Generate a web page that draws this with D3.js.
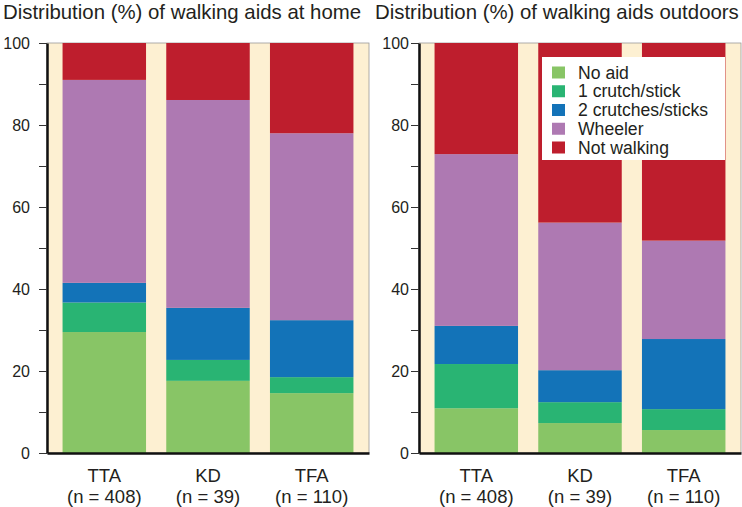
<!DOCTYPE html>
<html>
<head>
<meta charset="utf-8">
<script src="https://cdn.jsdelivr.net/npm/d3@7"></script>
<style>
  body { margin: 0; background: #fff; }
  text { font-family: "Liberation Sans", Arial, Helvetica, sans-serif; fill: #231f20; }
</style>
</head>
<body>
<div id="chart"></div>
<script>
var width = 742,
    height = 507;

// groups on the x axis
var categories = ["TTA", "KD", "TFA"];
var sampleSizes = ["(n = 408)", "(n = 39)", "(n = 110)"];

// stacked series, bottom to top
var aids = ["No aid", "1 crutch/stick", "2 crutches/sticks", "Wheeler", "Not walking"];
var aidColors = ["#88c566", "#29b473", "#1373b8", "#ae79b2", "#be1e2d"];

// walking aids at home (%)
var homeNoAid      = [29.5, 17.6, 14.6];
var homeOneCrutch  = [7.2, 5.1, 3.9];
var homeTwoCrutch  = [4.8, 12.7, 13.9];
var homeWheeler    = [49.5, 50.7, 45.6];
var homeNotWalking = [9.0, 13.9, 22.0];

// walking aids outdoors (%)
var outNoAid      = [10.9, 7.3, 5.6];
var outOneCrutch  = [10.8, 5.1, 5.1];
var outTwoCrutch  = [9.3, 7.8, 17.1];
var outWheeler    = [41.9, 36.0, 24.0];
var outNotWalking = [27.1, 43.8, 48.2];

var yTicks = [0, 10, 20, 30, 40, 50, 60, 70, 80, 90, 100];

function buildRows(series) {
	var rows = [];
	for (var i = 0; i < categories.length; i++) {
		var row = { group: categories[i] };
		for (var s = 0; s < aids.length; s++) {
			row[aids[s]] = series[s][i];
		}
		rows.push(row);
	}
	return rows;
}

var svg = d3.select("#chart").append("svg")
	.attr("width", width)
	.attr("height", height);

function drawPanel(offsetX, title, series, labelPad, showLegend) {
	var plotLeft = offsetX + 47,
		plotRight = offsetX + 369,
		plotTop = 43,
		plotBottom = 453;

	var g = svg.append("g");

	var x = d3.scaleBand()
		.domain(categories)
		.range([plotLeft, plotRight])
		.paddingInner(0.195)
		.paddingOuter(0.15);

	var y = d3.scaleLinear()
		.domain([0, 100])
		.range([plotBottom, plotTop]);

	// cream plot background with thin frame
	g.append("rect")
		.attr("x", plotLeft)
		.attr("y", plotTop)
		.attr("width", plotRight - plotLeft)
		.attr("height", plotBottom - plotTop)
		.style("fill", "#fdf0d2")
		.style("stroke", "#9a9a9a")
		.style("stroke-width", 0.8);

	var stacked = d3.stack().keys(aids)(buildRows(series));

	g.selectAll(".layer")
		.data(stacked)
		.enter()
		.append("g")
		.attr("class", "layer")
		.style("fill", function(d, i) { return aidColors[i]; })
		.selectAll("rect")
		.data(function(d) { return d; })
		.enter()
		.append("rect")
		.attr("x", function(d) { return x(d.data.group); })
		.attr("width", x.bandwidth())
		.attr("y", function(d) { return y(d[1]); })
		.attr("height", function(d) { return y(d[0]) - y(d[1]); });

	// y axis
	var yAxis = g.append("g")
		.attr("transform", "translate(" + plotLeft + ",0)")
		.call(d3.axisLeft(y)
			.tickValues(yTicks)
			.tickFormat(function(d) { return d % 20 === 0 ? d : ""; })
			.tickSize(8)
			.tickSizeOuter(0)
			.tickPadding(labelPad));

	yAxis.select(".domain").style("stroke", "#111").style("stroke-width", 2.5);
	yAxis.selectAll(".tick line").style("stroke", "#333").style("stroke-width", 1);
	yAxis.selectAll(".tick text")
		.style("font-size", "16px")
		.style("fill", "#231f20");

	// x axis with two-line labels
	var xAxis = g.append("g")
		.attr("transform", "translate(0," + plotBottom + ")")
		.call(d3.axisBottom(x).tickSize(0).tickSizeOuter(0));

	xAxis.select(".domain").style("stroke", "#111").style("stroke-width", 2.5);
	xAxis.selectAll(".tick text").remove();
	xAxis.selectAll(".tick").append("text")
		.attr("text-anchor", "middle")
		.style("font-size", "18.5px")
		.style("fill", "#231f20")
		.each(function(d, i) {
			var t = d3.select(this);
			t.append("tspan").attr("x", 0).attr("y", 29).text(d);
			t.append("tspan").attr("x", 0).attr("y", 50).text(sampleSizes[i]);
		});

	// title
	svg.append("text")
		.attr("x", offsetX + 3)
		.attr("y", 19)
		.style("font-size", "20.4px")
		.text(title);

	if (showLegend) {
		var legend = g.append("g")
			.attr("transform", "translate(" + (plotLeft + 123) + ",57)");

		legend.append("rect")
			.attr("width", 183)
			.attr("height", 103)
			.style("fill", "#fff");

		var items = legend.selectAll(".item")
			.data(aids)
			.enter()
			.append("g")
			.attr("class", "item")
			.attr("transform", function(d, i) { return "translate(10," + (15.5 + i * 18.75) + ")"; });

		items.append("rect")
			.attr("x", 0)
			.attr("y", -6)
			.attr("width", 13)
			.attr("height", 12)
			.style("fill", function(d, i) { return aidColors[i]; });

		items.append("text")
			.attr("x", 26)
			.attr("dy", "0.35em")
			.style("font-size", "17.6px")
			.text(function(d) { return d; });
	}
}

drawPanel(0, "Distribution (%) of walking aids at home",
	[homeNoAid, homeOneCrutch, homeTwoCrutch, homeWheeler, homeNotWalking], 9, false);

drawPanel(372, "Distribution (%) of walking aids outdoors",
	[outNoAid, outOneCrutch, outTwoCrutch, outWheeler, outNotWalking], 2, true);
</script>
</body>
</html>
